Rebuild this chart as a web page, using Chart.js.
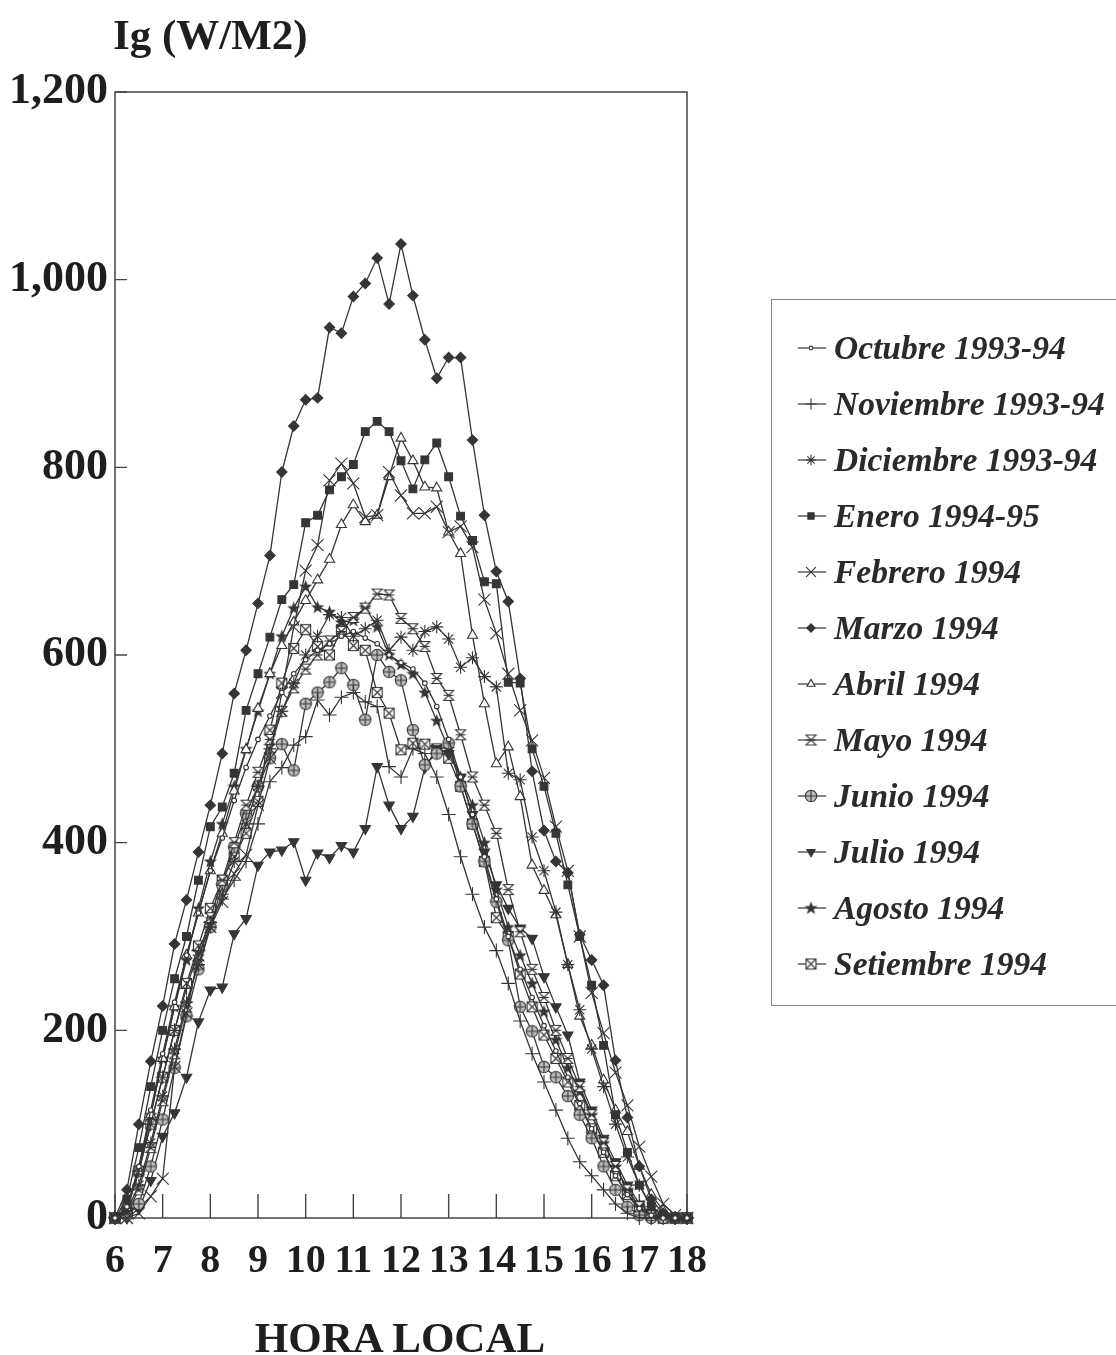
<!DOCTYPE html>
<html>
<head>
<meta charset="utf-8">
<title>Ig (W/M2) - Hora local</title>
<script src="https://cdn.jsdelivr.net/npm/chart.js@4.4.1/dist/chart.umd.min.js"></script>
<style>
    html, body { margin: 0; padding: 0; background: #fff; overflow: hidden; }
    #wrap { position: relative; width: 1116px; height: 1355px; }
    #grafico { position: absolute; left: 0; top: 0; }
    .txt { position: absolute; font-family: 'Liberation Serif', 'DejaVu Serif', serif; font-weight: bold; color: #1e1e1e; white-space: nowrap; }
    #ytitulo { left: 113px; top: 10px; font-size: 43px; }
    #xtitulo { left: 0; width: 800px; text-align: center; top: 1313px; font-size: 43px; }
    #leyenda { position: absolute; left: 771px; top: 299px; width: 400px; height: 707px; border: 1px solid #888; box-sizing: border-box; }
    .item { position: absolute; left: 22px; height: 40px; display: flex; align-items: center; }
    .item span { font-family: 'Liberation Serif', 'DejaVu Serif', serif; font-weight: bold; font-style: italic; font-size: 33.5px; color: #2a2a2a; }
</style>
</head>
<body>
<div id="wrap">
    <canvas id="grafico" width="1116" height="1355"></canvas>
    <div class="txt" id="ytitulo">Ig (W/M2)</div>
    <div class="txt" id="xtitulo">HORA LOCAL</div>
    <div id="leyenda"></div>
</div>
<script>
// Hora local cada 15 minutos
const horas = [6, 6.25, 6.5, 6.75, 7, 7.25, 7.5, 7.75, 8, 8.25, 8.5, 8.75, 9, 9.25, 9.5, 9.75,
    10, 10.25, 10.5, 10.75, 11, 11.25, 11.5, 11.75, 12, 12.25, 12.5, 12.75, 13, 13.25, 13.5, 13.75,
    14, 14.25, 14.5, 14.75, 15, 15.25, 15.5, 15.75, 16, 16.25, 16.5, 16.75, 17, 17.25, 17.5, 17.75, 18];

const etiquetasX = ['6', '7', '8', '9', '10', '11', '12', '13', '14', '15', '16', '17', '18'];
const etiquetasY = ['0', '200', '400', '600', '800', '1,000', '1,200'];

const meses = ['Octubre 1993-94', 'Noviembre 1993-94', 'Diciembre 1993-94', 'Enero 1994-95',
    'Febrero 1994', 'Marzo 1994', 'Abril 1994', 'Mayo 1994', 'Junio 1994', 'Julio 1994',
    'Agosto 1994', 'Setiembre 1994'];

// Radiación global Ig (W/m2)
const octubre = [0, 12, 55, 115, 175, 230, 280, 325, 370, 405, 445, 480, 510, 535, 560, 580,
    595, 605, 612, 620, 625, 618, 612, 600, 592, 585, 570, 545, 510, 470, 430, 385,
    340, 300, 265, 235, 205, 178, 150, 122, 95, 70, 45, 25, 10, 3, 0, 0, 0];
const noviembre = [0, 10, 50, 100, 150, 200, 245, 285, 315, 340, 360, 380, 420, 465, 480, 504,
    513, 552, 536, 555, 560, 550, 545, 481, 470, 500, 495, 470, 430, 385, 345, 310,
    285, 250, 210, 175, 145, 115, 85, 60, 45, 30, 15, 5, 0, 0, 0, 0, 0];
const diciembre = [0, 8, 35, 80, 130, 180, 230, 270, 310, 345, 380, 420, 460, 500, 540, 570,
    600, 620, 643, 640, 620, 628, 637, 605, 619, 605, 625, 630, 617, 587, 597, 577,
    566, 474, 467, 406, 370, 326, 270, 222, 180, 140, 100, 65, 35, 12, 3, 0, 0];
const enero = [0, 20, 75, 140, 200, 255, 300, 360, 417, 438, 474, 541, 580, 619, 659, 675,
    741, 749, 776, 790, 803, 838, 849, 838, 807, 777, 808, 826, 790, 748, 722, 678,
    676, 571, 570, 500, 460, 410, 355, 300, 248, 184, 110, 70, 35, 12, 3, 0, 0];
const febrero = [0, 0, 5, 23, 42, 161, 218, 280, 310, 337, 367, 387, 440, 490, 560, 630,
    690, 717, 786, 804, 783, 747, 749, 795, 770, 751, 751, 758, 731, 737, 715, 659,
    623, 580, 541, 509, 469, 417, 370, 300, 240, 197, 155, 120, 76, 44, 15, 3, 0];
const marzo = [0, 30, 100, 167, 226, 292, 339, 390, 440, 495, 559, 605, 655, 706, 795, 844,
    872, 874, 949, 943, 982, 996, 1023, 974, 1038, 983, 936, 895, 917, 917, 829, 749,
    689, 657, 575, 476, 413, 380, 368, 302, 275, 248, 168, 107, 55, 20, 5, 0, 0];
const abril = [0, 10, 50, 110, 170, 225, 280, 325, 370, 410, 455, 499, 543, 580, 610, 635,
    658, 680, 702, 739, 760, 742, 749, 790, 831, 807, 779, 778, 731, 708, 621, 548,
    484, 502, 449, 376, 349, 323, 270, 215, 184, 147, 115, 92, 55, 25, 8, 0, 0];
const mayo = [0, 5, 30, 75, 125, 175, 225, 275, 320, 360, 400, 440, 475, 510, 540, 565,
    585, 600, 615, 625, 640, 650, 665, 664, 639, 628, 609, 575, 557, 515, 470, 440,
    410, 350, 305, 265, 235, 200, 170, 140, 110, 80, 55, 30, 12, 3, 0, 0, 0];
const junio = [0, 3, 15, 55, 105, 160, 215, 265, 310, 355, 395, 431, 460, 490, 505, 477,
    548, 560, 571, 586, 568, 531, 600, 582, 573, 520, 483, 495, 506, 460, 420, 380,
    337, 296, 225, 199, 161, 150, 130, 110, 85, 55, 30, 12, 3, 0, 0, 0, 0];
const julio = [0, 0, 10, 40, 87, 112, 150, 209, 243, 246, 303, 319, 376, 390, 392, 401,
    360, 389, 384, 397, 390, 415, 481, 440, 415, 428, 480, 500, 495, 470, 430, 390,
    355, 330, 309, 298, 257, 225, 195, 145, 115, 85, 60, 35, 15, 5, 0, 0, 0];
const agosto = [0, 10, 50, 110, 170, 225, 275, 330, 380, 420, 460, 500, 540, 580, 620, 650,
    673, 651, 646, 635, 637, 651, 630, 600, 590, 580, 560, 530, 500, 470, 440, 400,
    350, 310, 280, 250, 220, 190, 160, 135, 110, 80, 55, 30, 12, 3, 0, 0, 0];
const setiembre = [0, 10, 50, 100, 150, 200, 250, 290, 330, 360, 385, 410, 444, 520, 570, 607,
    627, 609, 600, 627, 610, 605, 560, 538, 499, 506, 505, 500, 490, 460, 420, 380,
    320, 300, 260, 225, 195, 170, 145, 120, 95, 70, 45, 25, 10, 3, 0, 0, 0];

document.addEventListener("DOMContentLoaded", () => {
    const TINTA = '#353535';

    // Marcadores dibujados a mano
    function marca(tam, dibujar) {
        const c = document.createElement('canvas');
        c.width = tam; c.height = tam;
        const ctx = c.getContext('2d');
        ctx.strokeStyle = TINTA; ctx.fillStyle = TINTA; ctx.lineWidth = 1.1;
        dibujar(ctx, tam);
        return c;
    }
    const relojArena = marca(13, (ctx) => {
        ctx.beginPath();
        ctx.moveTo(1.5, 1.5); ctx.lineTo(11.5, 1.5); ctx.lineTo(1.5, 11.5); ctx.lineTo(11.5, 11.5);
        ctx.closePath();
        ctx.fillStyle = '#fff'; ctx.fill(); ctx.stroke();
        ctx.beginPath(); ctx.moveTo(1.5, 6.5); ctx.lineTo(11.5, 6.5); ctx.stroke();
    });
    const circuloCruz = marca(14, (ctx) => {
        ctx.beginPath(); ctx.arc(7, 7, 5.7, 0, Math.PI * 2);
        ctx.fillStyle = '#bdbdbd'; ctx.fill(); ctx.stroke();
        ctx.beginPath(); ctx.moveTo(1.5, 7); ctx.lineTo(12.5, 7); ctx.moveTo(7, 1.5); ctx.lineTo(7, 12.5); ctx.stroke();
    });
    const estrella = marca(15, (ctx) => {
        ctx.beginPath();
        for (let k = 0; k < 10; k++) {
            const r = k % 2 === 0 ? 7 : 2.9;
            const a = -Math.PI / 2 + k * Math.PI / 5;
            const px = 7.5 + r * Math.cos(a), py = 7.8 + r * Math.sin(a);
            k === 0 ? ctx.moveTo(px, py) : ctx.lineTo(px, py);
        }
        ctx.closePath(); ctx.fill();
    });
    const cuadroX = marca(13, (ctx) => {
        ctx.fillStyle = '#fff';
        ctx.fillRect(1.5, 1.5, 10, 10); ctx.strokeRect(1.5, 1.5, 10, 10);
        ctx.beginPath(); ctx.moveTo(1.5, 1.5); ctx.lineTo(11.5, 11.5); ctx.moveTo(11.5, 1.5); ctx.lineTo(1.5, 11.5); ctx.stroke();
    });

    const valores = [octubre, noviembre, diciembre, enero, febrero, marzo, abril, mayo, junio, julio, agosto, setiembre];
    const estilos = [
        { s: 'circle', r: 2.3, f: '#fff' },
        { s: 'cross', r: 7, f: TINTA },
        { s: 'star', r: 6.5, f: TINTA },
        { s: 'rect', r: 5.5, f: TINTA },
        { s: 'crossRot', r: 8.5, f: TINTA },
        { s: 'rectRot', r: 5.2, f: TINTA },
        { s: 'triangle', r: 5.8, f: '#fff' },
        { s: relojArena, r: 6, f: '#fff' },
        { s: circuloCruz, r: 6, f: '#fff' },
        { s: 'triangle', r: 6, f: TINTA, rot: 180 },
        { s: estrella, r: 6, f: TINTA },
        { s: cuadroX, r: 6, f: '#fff' }
    ];

    const datasets = valores.map((serie, i) => ({
        label: meses[i],
        data: horas.map((h, j) => ({ x: h, y: serie[j] })),
        borderColor: TINTA,
        borderWidth: 1.3,
        pointStyle: estilos[i].s,
        pointRadius: estilos[i].r,
        pointRotation: estilos[i].rot || 0,
        pointBackgroundColor: estilos[i].f,
        pointBorderColor: TINTA,
        pointBorderWidth: 1.1,
        tension: 0,
        clip: false
    }));

    // Marco y marcas interiores de los ejes
    const marcoEjes = {
        id: 'marcoEjes',
        beforeDatasetsDraw(chart) {
            const { ctx, chartArea: a, scales: { x, y } } = chart;
            ctx.save();
            ctx.strokeStyle = '#444';
            ctx.lineWidth = 1.5;
            ctx.strokeRect(a.left, a.top, a.right - a.left, a.bottom - a.top);
            ctx.lineWidth = 1.4;
            ctx.beginPath();
            y.ticks.forEach(t => {
                const py = y.getPixelForValue(t.value);
                ctx.moveTo(a.left, py); ctx.lineTo(a.left + 12, py);
            });
            x.ticks.forEach(t => {
                const px = x.getPixelForValue(t.value);
                ctx.moveTo(px, a.bottom); ctx.lineTo(px, a.bottom - 24);
            });
            ctx.stroke();
            ctx.restore();
        }
    };

    // Leyenda en HTML
    const leyendaHTML = {
        id: 'leyendaHTML',
        afterUpdate(chart) {
            const caja = document.getElementById('leyenda');
            caja.innerHTML = '';
            chart.data.datasets.forEach((ds, i) => {
                const fila = document.createElement('div');
                fila.className = 'item';
                fila.style.top = (28 + i * 56) + 'px';
                const c = document.createElement('canvas');
                c.width = 40; c.height = 24;
                const ctx = c.getContext('2d');
                ctx.strokeStyle = ds.borderColor; ctx.lineWidth = 1.2;
                ctx.beginPath(); ctx.moveTo(4, 12); ctx.lineTo(32, 12); ctx.stroke();
                ctx.fillStyle = ds.pointBackgroundColor;
                ctx.strokeStyle = ds.pointBorderColor;
                ctx.lineWidth = 1.1;
                if (Chart.helpers && Chart.helpers.drawPoint) {
                    Chart.helpers.drawPoint(ctx, {
                        pointStyle: ds.pointStyle, radius: ds.pointRadius * 0.8,
                        rotation: ds.pointRotation, borderWidth: 1.1
                    }, 17, 12);
                }
                const txt = document.createElement('span');
                txt.textContent = ds.label;
                fila.appendChild(c);
                fila.appendChild(txt);
                caja.appendChild(fila);
            });
        }
    };

    const fuenteX = { family: "'Liberation Serif', 'DejaVu Serif', serif", weight: 'bold', size: 40 };
    const fuenteY = { family: "'Liberation Serif', 'DejaVu Serif', serif", weight: 'bold', size: 44 };

    new Chart(document.getElementById('grafico').getContext('2d'), {
        type: 'line',
        data: { datasets },
        options: {
            responsive: false,
            animation: false,
            devicePixelRatio: 1,
            layout: { padding: { left: 0, right: 429, top: 92, bottom: 0 } },
            plugins: {
                legend: { display: false },
                tooltip: { enabled: false },
                title: { display: false }
            },
            scales: {
                x: {
                    type: 'linear', min: 6, max: 18,
                    afterFit(scale) { scale.height = 137; },
                    grid: { display: false, drawTicks: false },
                    border: { display: false },
                    ticks: {
                        stepSize: 1, padding: 20, color: '#1e1e1e', font: fuenteX,
                        maxRotation: 0, autoSkip: false,
                        callback: (v) => etiquetasX[v - 6]
                    }
                },
                y: {
                    min: 0, max: 1200,
                    afterFit(scale) { scale.width = 115; },
                    grid: { display: false, drawTicks: false },
                    border: { display: false },
                    ticks: {
                        stepSize: 200, padding: 7, color: '#1e1e1e', font: fuenteY,
                        callback: (v) => etiquetasY[v / 200]
                    }
                }
            }
        },
        plugins: [marcoEjes, leyendaHTML]
    });
});
</script>
</body>
</html>
